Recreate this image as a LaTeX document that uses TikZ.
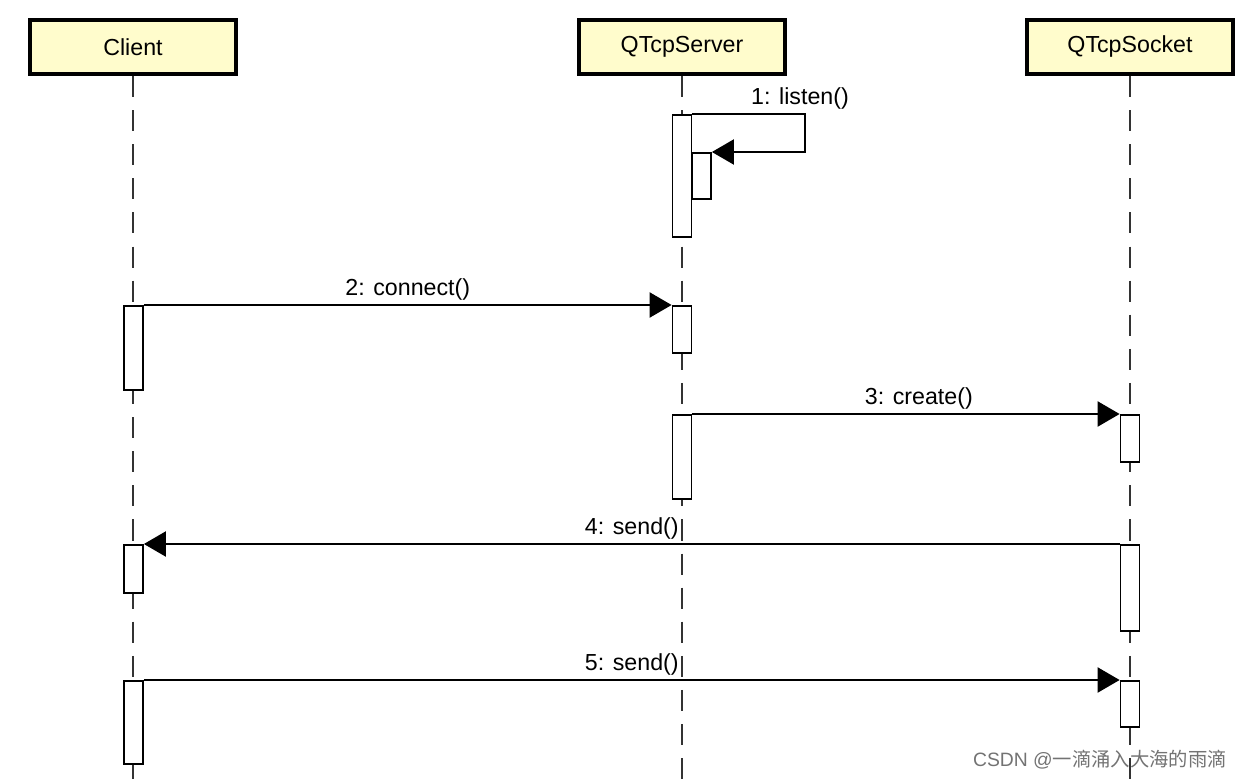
\documentclass[tikz,border=0pt]{standalone}
\usepackage{fontspec}
\setmainfont{Liberation Sans}
\newfontfamily\cjkfont{Noto Sans CJK SC}
\usepackage{tikz}
\usetikzlibrary{arrows.meta}
\tikzset{>={Triangle[length=0.22cm,width=0.25cm]}}

\begin{document}
\begin{tikzpicture}[x=0.01cm, y=-0.01cm, font=\fontsize{6.6}{8}\selectfont,
	obj/.style={draw, line width=1.1pt, fill=yellow!20, minimum width=2.06cm, minimum height=0.54cm, inner sep=0},
	bar/.style={draw, line width=0.5pt, fill=white, minimum width=0.19cm, inner sep=0, anchor=north},
	lifeline/.style={draw=black!80, line width=0.6pt, dash pattern=on 6pt off 3.7pt},
	msg/.style={->, line width=0.6pt},
	txt/.style={above=-2.4pt}]

		\useasboundingbox (0,0) rectangle (1240,779);
		\coordinate (bottom) at (0,779);

		\node[obj] (client) at (133,47) {Client};
		\node[obj] (server) at (682,47) {QTcpServer};
		\node[obj] (socket) at (1130,47) {QTcpSocket};

		\foreach \n in {client, server, socket}
		{\draw[lifeline](\n.south)--(\n.south |- bottom);
		}

		\node[bar, minimum height=1.22cm] (s1) at (682,114) {};
		\node[bar, minimum height=0.46cm] (s1b) at (701.5,152) {};
		\node[bar, minimum height=0.47cm] (s2) at (682,305) {};
		\node[bar, minimum height=0.84cm] (s3) at (682,414) {};

		\node[bar, minimum height=0.84cm] (c1) at (133.5,305) {};
		\node[bar, minimum height=0.48cm] (c2) at (133.5,544) {};
		\node[bar, minimum height=0.83cm] (c3) at (133.5,680) {};

		\node[bar, minimum height=0.47cm] (k1) at (1130,414) {};
		\node[bar, minimum height=0.86cm] (k2) at (1130,544) {};
		\node[bar, minimum height=0.46cm] (k3) at (1130,680) {};

		\coordinate (turn) at (805,133);
		\draw[msg](s1.north east) -| (turn) |- (s1b.north east);
		\node (listen) at (800,98) {1: listen()};

		\draw[msg](c1.north east) -- node[txt] {2: connect()} (s2.north west);
		\draw[msg](s3.north east) -- node[txt, pos=.53] {3: create()} (k1.north west);
		\draw[msg](k2.north west) -- node[txt] {4: send()} (c2.north east);
		\draw[msg](c3.north east) -- node[txt] {5: send()} (k3.north west);

		\node[text=black!55, font=\fontsize{5.5}{7}\selectfont] (mark) at (1100,760) {CSDN @{\cjkfont 一滴涌入大海的雨滴}};
\end{tikzpicture}
\end{document}
